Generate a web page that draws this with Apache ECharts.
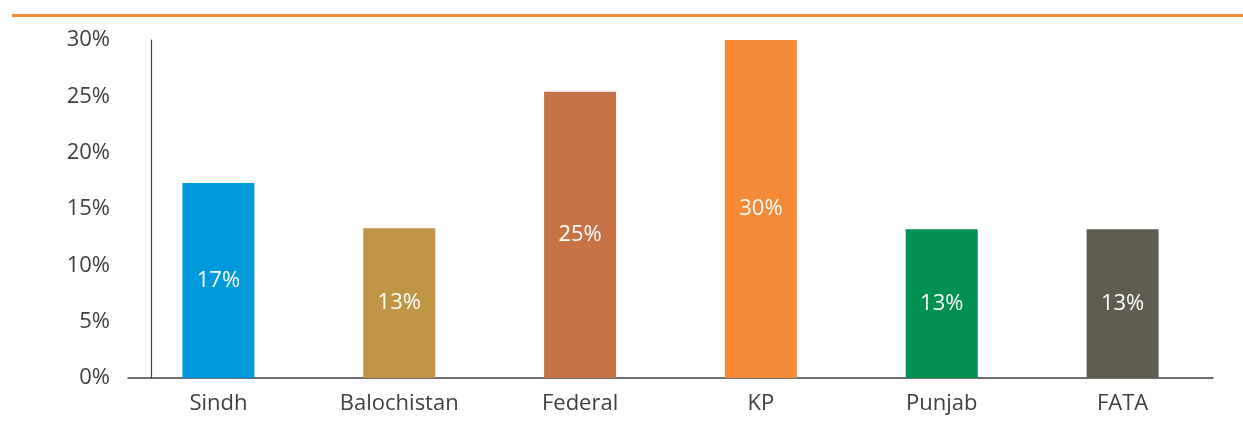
<!DOCTYPE html>
<html><head><meta charset="utf-8">
<script src="https://cdn.jsdelivr.net/npm/echarts@6/dist/echarts.min.js"></script>
<style>html,body{margin:0;padding:0;background:#fff;}#c{width:1243px;height:424px;}</style>
</head><body><div id="c"></div>
<script>
const categories = ['Sindh', 'Balochistan', 'Federal', 'KP', 'Punjab', 'FATA'];
const values = [17.3, 13.3, 25.4, 30.0, 13.2, 13.2];
const labels = ['17%', '13%', '25%', '30%', '13%', '13%'];
const colors = ['#0099DB', '#BF9444', '#C87248', '#F58A36', '#009150', '#5E5D50'];
const yTicks = [0, 5, 10, 15, 20, 25, 30];

const chart = echarts.init(document.getElementById('c'));
chart.setOption({
  animation: false,
  textStyle: { fontFamily: 'Open Sans' },
  graphic: [{
    type: 'line', shape: { x1: 12, y1: 15.5, x2: 1243, y2: 15.5 },
    style: { stroke: '#F58A36', lineWidth: 3 }
  }],
  grid: { left: 128, right: 30, top: 40, bottom: 46 },
  xAxis: {
    type: 'category', data: categories,
    axisLine: { lineStyle: { color: '#404040', width: 1.5 } },
    axisTick: { show: false },
    axisLabel: { color: '#404040', fontSize: 22, margin: 15 }
  },
  yAxis: {
    type: 'value', min: 0, max: 30, interval: 5,
    offset: -23,
    axisLine: { show: true, lineStyle: { color: '#404040', width: 1.2 } },
    axisTick: { show: false },
    splitLine: { show: false },
    axisLabel: { color: '#404040', fontSize: 22, margin: 41,
      formatter: v => yTicks.includes(v) ? v + '%' : '' }
  },
  series: [{
    type: 'bar', barWidth: 72,
    data: values.map((v, i) => ({ value: v, itemStyle: { color: colors[i] } })),
    label: { show: true, position: 'inside', color: '#fff', fontSize: 22,
      formatter: p => labels[p.dataIndex] }
  }]
});
</script></body></html>
